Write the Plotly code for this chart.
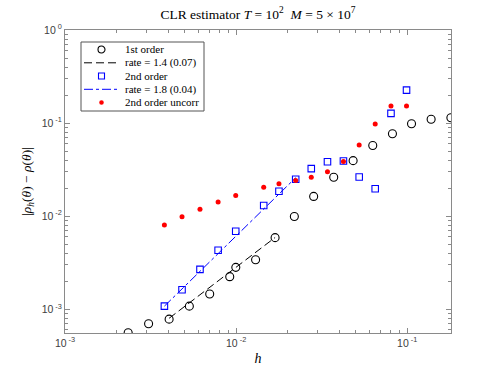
import plotly.graph_objects as go

# 1st order estimator errors
h_first = [2.34e-3, 3.08e-3, 4.06e-3, 5.33e-3, 7.01e-3, 9.18e-3, 9.96e-3, 1.30e-2, 1.69e-2,
           2.19e-2, 2.84e-2, 3.72e-2, 4.83e-2, 6.29e-2, 8.20e-2, 0.106, 0.138, 0.180]
err_first = [5.6e-4, 6.98e-4, 7.83e-4, 1.08e-3, 1.46e-3, 2.24e-3, 2.82e-3, 3.40e-3, 5.88e-3,
             9.93e-3, 1.63e-2, 2.62e-2, 3.95e-2, 5.74e-2, 7.69e-2, 9.84e-2, 0.110, 0.114]

# 2nd order estimator errors
h_second = [3.81e-3, 4.83e-3, 6.15e-3, 7.85e-3, 9.95e-3, 1.45e-2, 1.78e-2, 2.23e-2,
            2.75e-2, 3.42e-2, 4.24e-2, 5.24e-2, 6.50e-2, 8.04e-2, 9.91e-2]
err_second = [1.08e-3, 1.62e-3, 2.68e-3, 4.31e-3, 6.88e-3, 1.30e-2, 1.85e-2, 2.49e-2,
              3.24e-2, 3.85e-2, 3.92e-2, 2.64e-2, 1.97e-2, 0.127, 0.226]

# 2nd order, uncorrelated
err_uncorr = [8.02e-3, 9.83e-3, 1.19e-2, 1.42e-2, 1.67e-2, 2.05e-2, 2.23e-2, 2.42e-2,
              2.62e-2, 3.01e-2, 3.87e-2, 5.80e-2, 9.76e-2, 0.153, 0.153]

# fitted rate lines (end points)
fit1_h = [4.06e-3, 1.69e-2]
fit1_err = [8.0e-4, 5.9e-3]
fit2_h = [3.81e-3, 2.23e-2]
fit2_err = [1.08e-3, 2.59e-2]

legend_labels = ["1st order", "rate = 1.4 (0.07)", "2nd order", "rate = 1.8 (0.04)", "2nd order uncorr"]

x_ticks = [-3, -2, -1]
y_ticks = [-3, -2, -1, 0]

serif = "Liberation Serif"
axis_grey = "#8a8a8a"
dash_long = "8px,4px"


def decade_ticks(exps):
    vals = [10.0 ** e for e in exps]
    text = [f"10<sup> {e}</sup>" for e in exps]
    return vals, text


def minor_vals(lo, hi):
    return [m * 10.0 ** e for e in range(lo, hi) for m in range(2, 10)]


fig = go.Figure()
fig.add_trace(go.Scatter(
    x=h_first, y=err_first, mode="markers", name=legend_labels[0],
    marker=dict(symbol="circle-open", size=8, color="black", line=dict(width=1.1)),
))
fig.add_trace(go.Scatter(
    x=fit1_h, y=fit1_err, mode="lines", name=legend_labels[1],
    line=dict(color="black", width=1, dash=dash_long),
))
fig.add_trace(go.Scatter(
    x=h_second, y=err_second, mode="markers", name=legend_labels[2],
    marker=dict(symbol="square-open", size=6.5, color="#0000ff", line=dict(width=1.1)),
))
fig.add_trace(go.Scatter(
    x=fit2_h, y=fit2_err, mode="lines", name=legend_labels[3],
    line=dict(color="#0000ff", width=1, dash="dashdot"),
))
fig.add_trace(go.Scatter(
    x=h_second, y=err_uncorr, mode="markers", name=legend_labels[4],
    marker=dict(symbol="circle", size=5, color="#ff0000"),
))

axis_common = dict(
    type="log", showgrid=False, zeroline=False, mirror="ticks",
    showline=True, linecolor=axis_grey, linewidth=1,
    ticks="inside", ticklen=5, tickcolor=axis_grey, tickmode="array",
    tickfont=dict(family="Liberation Sans", size=10.5, color="#404040"),
)

xt_vals, xt_text = decade_ticks(x_ticks)
yt_vals, yt_text = decade_ticks(y_ticks)

# hand-built legend box (MATLAB style, compact rows)
px_w, px_h = 386.0, 303.0


def px_x(v):
    return (v - 65) / px_w


def px_y(v):
    return (333 - v) / px_h


shapes = [dict(type="rect", xref="paper", yref="paper",
               x0=px_x(81), x1=px_x(204), y0=px_y(111), y1=px_y(42),
               line=dict(color="#555555", width=1), fillcolor="white", layer="above")]
annotations = []
row_y = [49.5, 62.8, 76.0, 89.3, 102.5]
sym_x = 101.5
for label, ry in zip(legend_labels, row_y):
    annotations.append(dict(
        text=label, xref="paper", yref="paper", x=px_x(122.5), y=px_y(ry),
        xanchor="left", yanchor="middle", showarrow=False,
        font=dict(family=serif, size=11, color="black"),
    ))
shapes.append(dict(type="circle", xref="paper", yref="paper", xsizemode="pixel", ysizemode="pixel",
                   xanchor=px_x(sym_x), yanchor=px_y(row_y[0]), x0=-3.5, x1=3.5, y0=-3.5, y1=3.5,
                   line=dict(color="black", width=1.1), layer="above"))
shapes.append(dict(type="line", xref="paper", yref="paper",
                   x0=px_x(84), x1=px_x(120), y0=px_y(row_y[1]), y1=px_y(row_y[1]),
                   line=dict(color="black", width=1, dash=dash_long), layer="above"))
shapes.append(dict(type="rect", xref="paper", yref="paper", xsizemode="pixel", ysizemode="pixel",
                   xanchor=px_x(sym_x), yanchor=px_y(row_y[2]), x0=-3, x1=3, y0=-3, y1=3,
                   line=dict(color="#0000ff", width=1.1), layer="above"))
shapes.append(dict(type="line", xref="paper", yref="paper",
                   x0=px_x(84), x1=px_x(120), y0=px_y(row_y[3]), y1=px_y(row_y[3]),
                   line=dict(color="#0000ff", width=1, dash="dashdot"), layer="above"))
shapes.append(dict(type="circle", xref="paper", yref="paper", xsizemode="pixel", ysizemode="pixel",
                   xanchor=px_x(sym_x), yanchor=px_y(row_y[4]), x0=-2.3, x1=2.3, y0=-2.3, y1=2.3,
                   line=dict(color="#ff0000", width=0), fillcolor="#ff0000", layer="above"))

fig.update_layout(
    width=498, height=374,
    margin=dict(l=65, r=47, t=30, b=41),
    plot_bgcolor="white", paper_bgcolor="white",
    showlegend=False,
    title=dict(
        text="CLR estimator <i>T</i> = 10<sup>2</sup>  <i>M</i> = 5 × 10<sup>7</sup>",
        x=0.518, xanchor="center", y=0.963, yanchor="middle",
        font=dict(family=serif, size=13.5, color="black"),
    ),
    xaxis=dict(
        axis_common, range=[-3, -0.744], tickvals=xt_vals, ticktext=xt_text,
        minor=dict(tickmode="array", tickvals=minor_vals(-3, 0), ticks="inside",
                   ticklen=3, tickcolor=axis_grey, showgrid=False),
        title=dict(text="<i>h</i>", font=dict(family=serif, size=14, color="black"), standoff=5),
    ),
    yaxis=dict(
        axis_common, range=[-3.255, 0.0], tickvals=yt_vals, ticktext=yt_text,
        minor=dict(tickmode="array", tickvals=minor_vals(-4, 0), ticks="inside",
                   ticklen=3, tickcolor=axis_grey, showgrid=False),
        title=dict(text="|<i>ρ<sub>h</sub></i>(<i>θ</i>) − <i>ρ</i>(<i>θ</i>)|",
                   font=dict(family=serif, size=13.5, color="black"), standoff=6),
    ),
    shapes=shapes,
    annotations=annotations,
)

fig.write_html("out.html", config={"displayModeBar": False},
               post_script="document.body.style.margin = '0';")
